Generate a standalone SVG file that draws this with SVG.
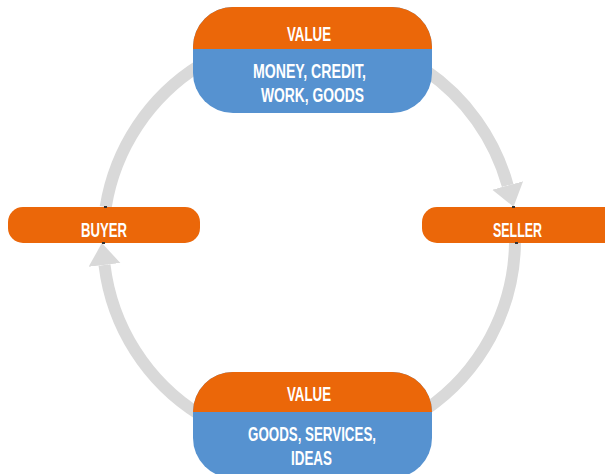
<svg xmlns="http://www.w3.org/2000/svg" width="605" height="474" viewBox="0 0 605 474">
  <style>
    .lbl { font-family: "Liberation Sans", Arial, sans-serif; font-weight: bold; font-size: 21px; fill: #ffffff; text-anchor: middle; }
    .arc { fill: none; stroke: #d9d9d9; stroke-width: 12; }
    .orange { fill: #eb6709; }
    .blue { fill: #5692d0; }
    .tick { fill: #333333; }
  </style>
  <defs>
    <marker id="head" markerUnits="userSpaceOnUse" markerWidth="24" markerHeight="34" refX="0" refY="16" orient="auto">
      <polygon points="0,0 22,16 0,32" fill="#d9d9d9"/>
    </marker>
    <clipPath id="clipTop"><rect x="193" y="7" width="239" height="106" rx="40" ry="40"/></clipPath>
    <clipPath id="clipBot"><rect x="193" y="372" width="239" height="106" rx="40" ry="40"/></clipPath>
  </defs>
  <rect width="605" height="474" fill="#ffffff"/>
  <g id="connectors">
    <path class="arc" d="M105.7,207 A206,206 0 0,1 200,65.2"/>
    <path class="arc" d="M425,70 A206,206 0 0,1 507.7,185.5" marker-end="url(#head)"/>
    <path class="arc" d="M515,243 A206,206 0 0,1 425,410"/>
    <path class="arc" d="M200,414.8 A206,206 0 0,1 104.5,264.9" marker-end="url(#head)"/>
  </g>
  <g id="value-top">
    <g clip-path="url(#clipTop)">
      <rect class="blue" x="193" y="7" width="239" height="106"/>
      <rect class="orange" x="193" y="7" width="239" height="42"/>
    </g>
    <text class="lbl" x="309" y="41" textLength="44" lengthAdjust="spacingAndGlyphs">VALUE</text>
    <text class="lbl" x="309.5" y="78" textLength="113" lengthAdjust="spacingAndGlyphs">MONEY, CREDIT,</text>
    <text class="lbl" x="312.5" y="102" textLength="103" lengthAdjust="spacingAndGlyphs">WORK, GOODS</text>
  </g>
  <g id="value-bottom">
    <g clip-path="url(#clipBot)">
      <rect class="blue" x="193" y="372" width="239" height="106"/>
      <rect class="orange" x="193" y="372" width="239" height="40"/>
    </g>
    <text class="lbl" x="309" y="401" textLength="44" lengthAdjust="spacingAndGlyphs">VALUE</text>
    <text class="lbl" x="312" y="441" textLength="128" lengthAdjust="spacingAndGlyphs">GOODS, SERVICES,</text>
    <text class="lbl" x="311.5" y="465" textLength="41" lengthAdjust="spacingAndGlyphs">IDEAS</text>
  </g>
  <g id="buyer">
    <rect class="orange" x="8" y="207" width="192" height="36" rx="15" ry="15"/>
    <text class="lbl" x="104" y="237" textLength="46" lengthAdjust="spacingAndGlyphs">BUYER</text>
    <rect class="tick" x="104" y="206" width="3" height="2"/>
    <rect class="tick" x="102" y="242" width="3" height="2"/>
  </g>
  <g id="seller">
    <rect class="orange" x="422" y="207" width="200" height="36" rx="15" ry="15"/>
    <text class="lbl" x="517.5" y="236.5" textLength="49" lengthAdjust="spacingAndGlyphs">SELLER</text>
    <rect class="tick" x="512" y="206" width="3" height="2"/>
    <rect class="tick" x="515" y="242" width="3" height="2"/>
  </g>
</svg>
